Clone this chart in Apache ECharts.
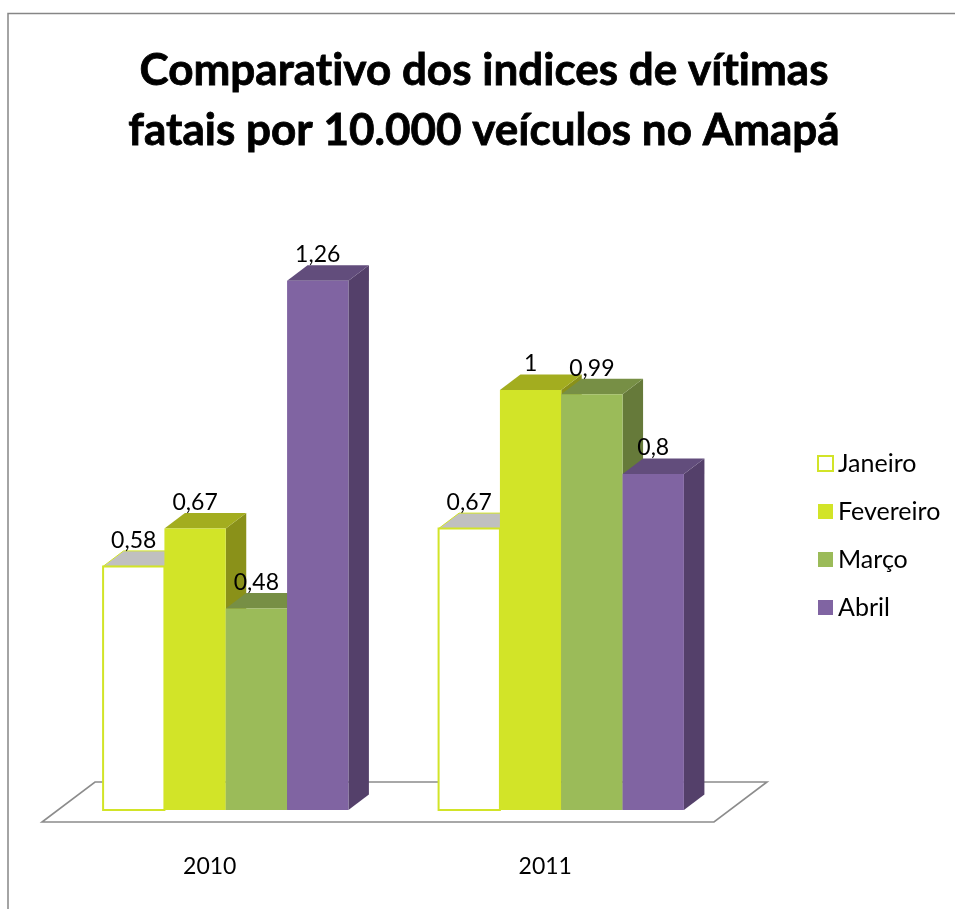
<!DOCTYPE html>
<html><head><meta charset="utf-8">
<style>html,body{margin:0;padding:0;background:#fff}#c{width:955px;height:909px}</style>
<script src="https://cdn.jsdelivr.net/npm/echarts@6/dist/echarts.min.js"></script>
</head><body><div id="c"></div>
<script>
var categories = ['2010', '2011'];
var janeiro = [0.58, 0.67];
var fevereiro = [0.67, 1];
var marco = [0.48, 0.99];
var abril = [1.26, 0.8];
var chartTitle = 'Comparativo dos indices de vítimas\nfatais por 10.000 veículos no Amapá';
var FONT = 'Lato, "Open Sans", sans-serif';

// Keep "ti" as two letters: the reference font has no ligature there.
(function () {
  var proto = CanvasRenderingContext2D.prototype, fill = proto.fillText, strokeT = proto.strokeText;
  proto.fillText = function () { this.letterSpacing = '0.01px'; return fill.apply(this, arguments); };
  proto.strokeText = function () { this.letterSpacing = '0.01px'; return strokeT.apply(this, arguments); };
})();

var BAR_SHARE = 0.1828, DX = 20.5, DY = 15.5;

function barRenderer(idx, cols) {
  return function (params, api) {
    var v = api.value(1);
    var base = api.coord([api.value(0), 0]);
    var top = api.coord([api.value(0), v]);
    var w = api.size([1, 0])[0] * BAR_SHARE;
    var x0 = base[0] + (idx - 2) * w, x1 = x0 + w, yb = base[1], yt = top[1];
    var stroke = cols.edge ? {stroke: cols.edge, lineWidth: cols.edgeW} : {stroke: null};
    return {type: 'group', children: [
      {type: 'polygon', shape: {points: [[x1, yb], [x1 + DX, yb - DY], [x1 + DX, yt - DY], [x1, yt]]}, style: {fill: cols.side}},
      {type: 'polygon', shape: {points: [[x0, yt], [x0 + DX, yt - DY], [x1 + DX, yt - DY], [x1, yt]]}, style: Object.assign({fill: cols.top}, cols.edge ? {stroke: cols.edge, lineWidth: 1} : {})},
      {type: 'rect', shape: {x: x0, y: yt, width: x1 - x0, height: yb - yt}, style: Object.assign({fill: cols.front}, stroke)},
      {type: 'text', z2: 100, style: {text: String(v).replace('.', ','), x: (x0 + x1) / 2, y: yt - 26, align: 'center', verticalAlign: 'middle', fill: '#000', fontFamily: FONT, fontSize: 23}}
    ]};
  };
}

function barSeries(name, values, idx, cols) {
  return {
    name: name, type: 'custom', coordinateSystem: 'cartesian2d', silent: true,
    itemStyle: {color: cols.front},
    encode: {x: 0, y: 1},
    data: values.map(function (v, i) { return [i, v]; }),
    renderItem: barRenderer(idx, cols)
  };
}

var floorSeries = {
  name: 'Piso', type: 'custom', coordinateSystem: 'cartesian2d', silent: true,
  data: [[0, 0]], encode: {x: 0, y: 1},
  renderItem: function (params) {
    var g = params.coordSys, yb = g.y + g.height, xl = g.x, xr = g.x + g.width;
    return {type: 'polygon', shape: {points: [[xl - 16, yb + 12], [xr - 15, yb + 12], [xr + 38, yb - 28], [xl + 37, yb - 28]]},
      style: {fill: '#fff', stroke: '#8c8c8c', lineWidth: 1.6}};
  }
};

var chart = echarts.init(document.getElementById('c'), null, {renderer: 'canvas'});
chart.setOption({
  animation: false,
  backgroundColor: '#fff',
  title: {text: chartTitle, left: 479, top: 36, padding: 5, textAlign: 'center',
    textStyle: {fontFamily: FONT, fontWeight: 'bold', fontSize: 44, color: '#000', lineHeight: 60, textBorderColor: '#000', textBorderWidth: 0.8}},
  grid: {left: 58, width: 671, top: 222, height: 588},
  xAxis: {type: 'category', data: categories, axisLine: {show: false}, axisTick: {show: false}, splitLine: {show: false},
    axisLabel: {margin: 45, color: '#000', fontFamily: FONT, fontSize: 23, padding: [0, 32, 0, 0]}},
  yAxis: {type: 'value', min: 0, max: 1.4, show: false},
  legend: {orient: 'vertical', left: 817, top: 451, padding: 0, itemWidth: 15, itemHeight: 15, itemGap: 23, icon: 'rect',
    textStyle: {fontFamily: FONT, fontSize: 25, color: '#000'},
    data: [
      {name: 'Janeiro', itemStyle: {color: '#fff', borderColor: '#d2e428', borderWidth: 2}},
      {name: 'Fevereiro', itemStyle: {color: '#d2e428'}},
      {name: 'Março', itemStyle: {color: '#9bbb59'}},
      {name: 'Abril', itemStyle: {color: '#8064a2'}}
    ]},
  graphic: [{type: 'polyline', silent: true, shape: {points: [[8, 909], [8, 13.5], [955, 13.5]]}, style: {fill: null, stroke: '#868686', lineWidth: 1.5}}],
  series: [
    floorSeries,
    barSeries('Janeiro', janeiro, 0, {front: '#fff', top: '#c0c0c0', side: '#c0c0c0', edge: '#d2e428', edgeW: 2}),
    barSeries('Fevereiro', fevereiro, 1, {front: '#d2e428', top: '#a3ad1f', side: '#8a9119'}),
    barSeries('Março', marco, 2, {front: '#9bbb59', top: '#778f45', side: '#667a3a'}),
    barSeries('Abril', abril, 3, {front: '#8064a2', top: '#624d7c', side: '#54406a'})
  ]
});
</script></body></html>
